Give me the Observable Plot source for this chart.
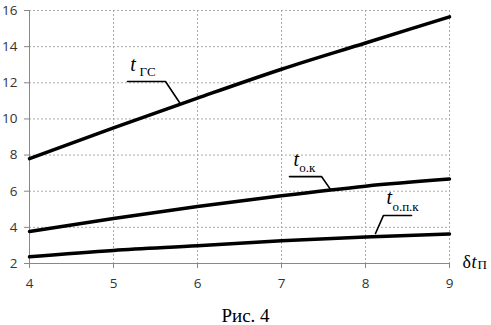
<!DOCTYPE html>
<html>
<head>
<meta charset="utf-8">
<script src="https://cdn.jsdelivr.net/npm/d3@7"></script>
<script src="https://cdn.jsdelivr.net/npm/@observablehq/plot@0.6"></script>
<style>
  html, body { margin: 0; padding: 0; background: #fff; overflow: hidden; }
  #chart { width: 491px; height: 325px; position: relative; }
  #caption { position: absolute; left: 0; width: 491px; top: 305px; text-align: center;
    font-family: "Liberation Serif", "Times New Roman", serif; font-size: 19px; line-height: 22px; color: #000; }
</style>
</head>
<body>
<div id="chart"></div>
<script>
// x values (δt_П)
const xValues = [4, 5, 6, 7, 8, 9];
// series
const tGS   = [7.8, 9.5, 11.15, 12.75, 14.2, 15.65];
const tOK   = [3.77, 4.49, 5.15, 5.75, 6.28, 6.67];
const tOPK  = [2.37, 2.72, 2.98, 3.26, 3.46, 3.63];
const xTicks = [4, 5, 6, 7, 8, 9];
const yTicks = [2, 4, 6, 8, 10, 12, 14, 16];

// annotation text
const seriesNames = ["ГС", "о.к", "о.п.к"];
const caption = "Рис. 4";

const series = [tGS, tOK, tOPK];
const rows = series.flatMap((s, i) => s.map((v, j) => ({x: xValues[j], y: v, s: seriesNames[i]})));

// leader lines (data coordinates)
const leaders = [
  [{x: 5.167, y: 12.07}, {x: 5.619, y: 12.07}, {x: 5.786, y: 10.91}],
  [{x: 7.095, y: 6.81}, {x: 7.476, y: 6.81}, {x: 7.583, y: 6.10}],
  [{x: 8.119, y: 3.66}, {x: 8.214, y: 4.66}, {x: 8.548, y: 4.66}]
].flatMap((pts, i) => pts.map(p => ({...p, s: seriesNames[i]})));

// label anchors (data coordinates)
const mainLabels = [
  {x: 5.20, y: 12.63, t: "t"},
  {x: 7.143, y: 7.37, t: "t"},
  {x: 8.25, y: 5.27, t: "t"}
];
const subLabels = [
  {x: 5.31, y: 12.35, t: seriesNames[0]},
  {x: 7.21, y: 7.04, t: seriesNames[1]},
  {x: 8.32, y: 4.93, t: seriesNames[2]}
];

const serif = "Liberation Serif, Times New Roman, serif";

const plot = Plot.plot({
  width: 491,
  height: 300,
  marginTop: 10,
  marginBottom: 37,
  marginLeft: 29,
  marginRight: 42,
  style: {fontFamily: "Open Sans, sans-serif", fontSize: "13.5px", color: "#333", background: "#fff", overflow: "visible"},
  x: {domain: [4, 9], ticks: xTicks, label: null},
  y: {domain: [2, 16], ticks: yTicks, label: null},
  marks: [
    Plot.gridX(xTicks, {stroke: "#aaa", strokeOpacity: 1, strokeWidth: 1, strokeDasharray: "2,2"}),
    Plot.gridY(yTicks, {stroke: "#aaa", strokeOpacity: 1, strokeWidth: 1, strokeDasharray: "2,2"}),
    Plot.ruleX([4], {stroke: "#888", strokeWidth: 1}),
    Plot.ruleY([2], {stroke: "#888", strokeWidth: 1}),
    Plot.axisX({ticks: xTicks, tickFormat: d => String(d), tickSize: 5, tickPadding: 10, stroke: "#888", label: null, fill: "#333"}),
    Plot.axisY({ticks: yTicks, tickFormat: d => String(d), tickSize: 5, tickPadding: 7, stroke: "#888", label: null, fill: "#333"}),
    Plot.line(rows, {x: "x", y: "y", z: "s", stroke: "#000", strokeWidth: 3.5, curve: "monotone-x"}),
    Plot.line(leaders, {x: "x", y: "y", z: "s", stroke: "#000", strokeWidth: 1.6}),
    Plot.text(mainLabels, {x: "x", y: "y", text: "t", textAnchor: "start", lineAnchor: "bottom",
      fontFamily: serif, fontStyle: "italic", fontSize: 20, fill: "#000"}),
    Plot.text(subLabels, {x: "x", y: "y", text: "t", textAnchor: "start", lineAnchor: "bottom",
      fontFamily: serif, fontSize: 13, fill: "#000"}),
    // x axis title δt_П
    Plot.text([{x: 9, y: 2}], {x: "x", y: "y", text: () => "δ", dx: 13, dy: 4, textAnchor: "start", lineAnchor: "bottom",
      fontFamily: serif, fontSize: 18, fill: "#000"}),
    Plot.text([{x: 9, y: 2}], {x: "x", y: "y", text: () => "t", dx: 22, dy: 4, textAnchor: "start", lineAnchor: "bottom",
      fontFamily: serif, fontStyle: "italic", fontSize: 18, fill: "#000"}),
    Plot.text([{x: 9, y: 2}], {x: "x", y: "y", text: () => "П", dx: 28, dy: 5, textAnchor: "start", lineAnchor: "bottom",
      fontFamily: serif, fontSize: 13, fill: "#000"})
  ]
});
document.getElementById("chart").appendChild(plot);
const cap = document.createElement("div");
cap.id = "caption";
cap.textContent = caption;
document.getElementById("chart").appendChild(cap);
</script>
</body>
</html>
